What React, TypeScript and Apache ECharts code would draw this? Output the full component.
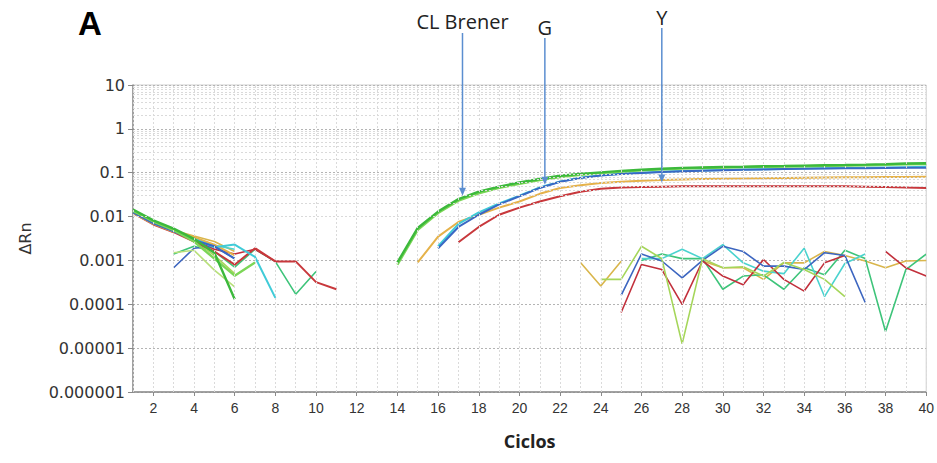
import { useEffect, useRef } from "react";
import * as echarts from "echarts";

// Cycle axis: labelled / ticked cycles and the per-cycle vertical guides
const cycleTicks = [2, 4, 6, 8, 10, 12, 14, 16, 18, 20, 22, 24, 26, 28, 30, 32, 34, 36, 38, 40];
const cycleGuides = [
  1, 2, 3, 4, 5, 6, 7, 8, 9, 10, 11, 12, 13, 14, 15, 16, 17, 18, 19, 20,
  21, 22, 23, 24, 25, 26, 27, 28, 29, 30, 31, 32, 33, 34, 35, 36, 37, 38, 39, 40,
];

// Log axis: decades and in-decade minor guides (2..9 × decade)
const decades = [0.000001, 0.00001, 0.0001, 0.001, 0.01, 0.1, 1];
const minorSteps = [2, 3, 4, 5, 6, 7, 8, 9];

// ---- Amplified wells (baseline noise, then amplification curve) ----
const greenEarly = [0.0145, 0.0082, 0.0053, 0.0031, 0.0015, 0.00013];
const greenCurve = [
  0.0009, 0.0055, 0.013, 0.025, 0.037, 0.048, 0.06, 0.072, 0.085, 0.094, 0.102, 0.11, 0.117, 0.123,
  0.129, 0.132, 0.135, 0.137, 0.14, 0.142, 0.145, 0.148, 0.15, 0.153, 0.157, 0.162, 0.165,
]; // cycles 14-40

const lightGreenEarly = [0.0135, 0.0077, 0.0049, 0.0027, 0.0011, 0.00045, 0.0009];
const lightGreenCurve = [
  0.0008, 0.005, 0.012, 0.023, 0.034, 0.045, 0.056, 0.068, 0.08, 0.09, 0.098, 0.106, 0.113, 0.119,
  0.124, 0.128, 0.131, 0.134, 0.136, 0.138, 0.14, 0.143, 0.145, 0.148, 0.151, 0.155, 0.158,
]; // cycles 14-40

const yellowEarly = [0.012, 0.0068, 0.0045, 0.0034, 0.0023, 0.0013];
const yellowCurve = [
  0.0009, 0.0035, 0.0075, 0.011, 0.016, 0.022, 0.033, 0.045, 0.052, 0.058, 0.062, 0.066, 0.068,
  0.07, 0.072, 0.073, 0.074, 0.075, 0.076, 0.077, 0.078, 0.079, 0.079, 0.08, 0.08, 0.081,
]; // cycles 15-40

const cyanEarly = [0.013, 0.0073, 0.0047, 0.0031, 0.002, 0.0023, 0.0012, 0.00014];
const cyanCurve = [
  0.0021, 0.0068, 0.0125, 0.02, 0.03, 0.046, 0.063, 0.077, 0.087, 0.095, 0.1, 0.105, 0.109,
  0.112, 0.115, 0.118, 0.12, 0.122, 0.124, 0.126, 0.128, 0.13, 0.132, 0.134, 0.136,
]; // cycles 16-40

const blueEarly = [0.0125, 0.007, 0.0046, 0.0029, 0.0021, 0.0011];
const blueCurve = [
  0.0019, 0.0058, 0.011, 0.019, 0.029, 0.045, 0.062, 0.076, 0.086, 0.094, 0.099, 0.104, 0.108,
  0.111, 0.114, 0.117, 0.119, 0.121, 0.123, 0.125, 0.126, 0.127, 0.128, 0.129, 0.13,
]; // cycles 16-40

const redEarly = [0.012, 0.0066, 0.0044, 0.0027, 0.0016, 0.0008, 0.0019, 0.00095, 0.00095, 0.00032, 0.00022];
const redCurve = [
  0.0026, 0.0058, 0.011, 0.016, 0.022, 0.029, 0.037, 0.043, 0.046, 0.047, 0.048, 0.049,
  0.049, 0.049, 0.049, 0.049, 0.049, 0.049, 0.049, 0.049, 0.048, 0.047, 0.046, 0.045,
]; // cycles 17-40

// ---- Non-amplified wells (noise only) ----
const limeEarly = [0.0135, 0.0078, 0.0051, 0.0029, 0.0013, 0.0005];
const limeLate = [0.00037, 0.00037, 0.0021, 0.0011, 0.0000125, 0.0011, 0.00068, 0.00072, 0.00044, 0.0009, 0.00062, 0.00037, 0.00015]; // 24-36

const navyEarly = [0.00068, 0.0019, 0.0021, 0.0011]; // 3-6
const navyLate = [0.00016, 0.0014, 0.00097, 0.0004, 0.001, 0.0021, 0.0016, 0.00074, 0.00074, 0.00062, 0.0015, 0.0013, 0.00011]; // 25-37

const crimsonEarly = [0.0125, 0.0069, 0.0046, 0.003, 0.0018, 0.0014, 0.0018, 0.00095];
const crimsonLate = [0.000065, 0.00081, 0.00062, 0.0001, 0.00097, 0.00044, 0.00028, 0.00105, 0.00037, 0.0002, 0.00088, 0.0013]; // 25-36
const crimsonTail = [0.0016, 0.00068, 0.00044]; // 38-40

const aquaEarly = [0.0128, 0.0071, 0.0047, 0.0032, 0.0022, 0.0018];
const aquaLate = [0.0011, 0.0011, 0.0018, 0.0011, 0.0023, 0.00088, 0.00057, 0.0005, 0.0019, 0.00015, 0.00085, 0.0014]; // 26-37

const jadeEarly = [0.0014, 0.0021, 0.0016, 0.0007, 0.0018, 0.00094, 0.00017, 0.00056]; // 3-10
const jadeLate = [0.001, 0.0014, 0.0011, 0.0011, 0.00022, 0.00044, 0.00047, 0.00022, 0.00068, 0.00047, 0.0017, 0.0011, 0.000024, 0.00062, 0.0014]; // 26-40

const paleEarly = [0.0015, 0.0017, 0.0006, 0.00025]; // 3-6

const goldEarly = [0.0128, 0.007, 0.0049, 0.0036, 0.0027, 0.0016];
const goldLate = [0.0009, 0.00026, 0.00096]; // 23-25
const goldTail = [0.00097, 0.00068, 0.00068, 0.00037, 0.00088, 0.00088, 0.0016, 0.0013, 0.00097, 0.00068, 0.00097, 0.001]; // 29-40

// Annotation targets on the curves
const markerLabels = ["CL Brener", "G", "Y"];
const markerCycles = [17.2, 21.25, 27];
const markerValues = [0.03, 0.053, 0.06];

type Segment = [number, number[]];
interface Well {
  color: string;
  width: number;
  segments: Segment[];
}

const wells: Well[] = [
  { color: "#d9b64c", width: 1.6, segments: [[1, goldEarly], [23, goldLate], [29, goldTail]] },
  { color: "#3ec47a", width: 1.6, segments: [[3, jadeEarly], [26, jadeLate]] },
  { color: "#4bd3cf", width: 1.6, segments: [[1, aquaEarly], [26, aquaLate]] },
  { color: "#c2303c", width: 1.6, segments: [[1, crimsonEarly], [25, crimsonLate], [38, crimsonTail]] },
  { color: "#3d66c0", width: 1.6, segments: [[3, navyEarly], [25, navyLate]] },
  { color: "#a5d65a", width: 1.6, segments: [[1, limeEarly], [24, limeLate]] },
  { color: "#b8e07a", width: 1.6, segments: [[3, paleEarly]] },
  { color: "#c8383c", width: 2, segments: [[1, redEarly], [17, redCurve]] },
  { color: "#e5b24a", width: 2, segments: [[1, yellowEarly], [15, yellowCurve]] },
  { color: "#3fcbd8", width: 2, segments: [[1, cyanEarly], [16, cyanCurve]] },
  { color: "#3a68c4", width: 2, segments: [[1, blueEarly], [16, blueCurve]] },
  { color: "#7cd657", width: 2.4, segments: [[1, lightGreenEarly], [14, lightGreenCurve]] },
  { color: "#3cb93c", width: 2.4, segments: [[1, greenEarly], [14, greenCurve]] },
];

function toPoints(segments: Segment[]) {
  const out: any[] = [];
  segments.forEach(([start, values], si) => {
    if (si > 0) out.push([start - 0.5, "-"]);
    values.forEach((v, i) => out.push([start + i, v]));
  });
  return out;
}

function formatLog(v: number) {
  const e = Math.round(Math.log10(v));
  return e >= 0 ? String(Math.pow(10, e)) : Math.pow(10, e).toFixed(-e);
}

const ARROW = "#5b8ed0";
const TEXT_FONT = "'Open Sans', 'Noto Sans', sans-serif";
const TICK_FONT = "'DejaVu Sans', sans-serif";

export default function App() {
  const ref = useRef<HTMLDivElement>(null);

  useEffect(() => {
    if (!ref.current) return;
    const chart = echarts.init(ref.current, null, { renderer: "svg" });

    const guideLines: any[] = [];
    decades.forEach((d) => minorSteps.forEach((m) => guideLines.push({ yAxis: d * m })));
    cycleGuides.forEach((c) => guideLines.push({ xAxis: c }));

    chart.setOption({
      animation: false,
      backgroundColor: "#ffffff",
      grid: {
        left: 133,
        right: 8,
        top: 85,
        bottom: 71,
        show: true,
        borderColor: "#cfcfcf",
        borderWidth: 1,
      },
      xAxis: {
        type: "value",
        min: 1,
        max: 40,
        interval: 1,
        name: "Ciclos",
        nameLocation: "middle",
        nameGap: 40,
        nameTextStyle: { fontFamily: TEXT_FONT, fontWeight: "bold", fontSize: 18, color: "#222" },
        axisLine: { lineStyle: { color: "#8a8a8a", width: 1.5 } },
        axisTick: { show: true, length: 4, customValues: cycleTicks, lineStyle: { color: "#8a8a8a" } },
        axisLabel: {
          customValues: cycleTicks,
          formatter: (v: number) => (v % 2 === 0 ? String(v) : ""),
          fontFamily: "'Liberation Sans Narrow', 'Liberation Sans', sans-serif",
          fontSize: 14,
          color: "#333",
          margin: 9,
        },
        splitLine: { show: false },
      },
      yAxis: {
        type: "log",
        logBase: 10,
        min: 0.000001,
        max: 10,
        splitNumber: 7,
        name: "ΔRn",
        nameLocation: "middle",
        nameGap: 100,
        nameTextStyle: { fontFamily: TICK_FONT, fontSize: 16, color: "#333" },
        axisLine: { show: true, lineStyle: { color: "#8a8a8a", width: 1.5 } },
        axisTick: { show: true, length: 5, lineStyle: { color: "#8a8a8a" } },
        axisLabel: {
          formatter: formatLog,
          fontFamily: TICK_FONT,
          fontSize: 16,
          color: "#333",
          margin: 8,
        },
        splitLine: { show: true, lineStyle: { color: "#b4b4b4", type: [2, 2], width: 1 } },
      },
      series: [
        {
          type: "line",
          data: [],
          silent: true,
          z: 1,
          markLine: {
            silent: true,
            symbol: ["none", "none"],
            label: { show: false },
            lineStyle: { color: "#dadada", type: [2, 2], width: 1 },
            data: guideLines,
          },
        },
        ...wells.map((w) => ({
          type: "line",
          data: toPoints(w.segments),
          showSymbol: false,
          symbol: "none",
          silent: true,
          connectNulls: false,
          z: 3,
          lineStyle: { color: w.color, width: w.width },
          itemStyle: { color: w.color },
        })),
      ],
    });

    // Labelled arrows pointing at the curves
    const starts = [33, 38, 28];
    const textY = [21, 27, 17];
    const graphics: any[] = [
      {
        type: "text",
        left: 78,
        top: 7,
        style: { text: "A", font: "bold 33px 'Liberation Sans', Arial, sans-serif", fill: "#000" },
      },
    ];
    markerLabels.forEach((label, i) => {
      const [px, py] = chart.convertToPixel({ gridIndex: 0 }, [markerCycles[i], markerValues[i]]) as number[];
      graphics.push(
        {
          type: "text",
          x: px,
          y: textY[i],
          style: {
            text: label,
            font: `20px ${TEXT_FONT}`,
            fill: "#222",
            align: "center",
            verticalAlign: "middle",
          },
        },
        {
          type: "line",
          shape: { x1: px, y1: starts[i], x2: px, y2: py - 7 },
          style: { stroke: ARROW, lineWidth: 1.5 },
          z: 10,
        },
        {
          type: "polygon",
          shape: { points: [[px - 3.5, py - 8], [px + 3.5, py - 8], [px, py]] },
          style: { fill: ARROW },
          z: 10,
        }
      );
    });
    chart.setOption({ graphic: graphics });

    return () => chart.dispose();
  }, []);

  return (
    <div
      ref={ref}
      style={{ position: "fixed", left: 0, top: 0, width: 937, height: 463, background: "#fff" }}
    />
  );
}
